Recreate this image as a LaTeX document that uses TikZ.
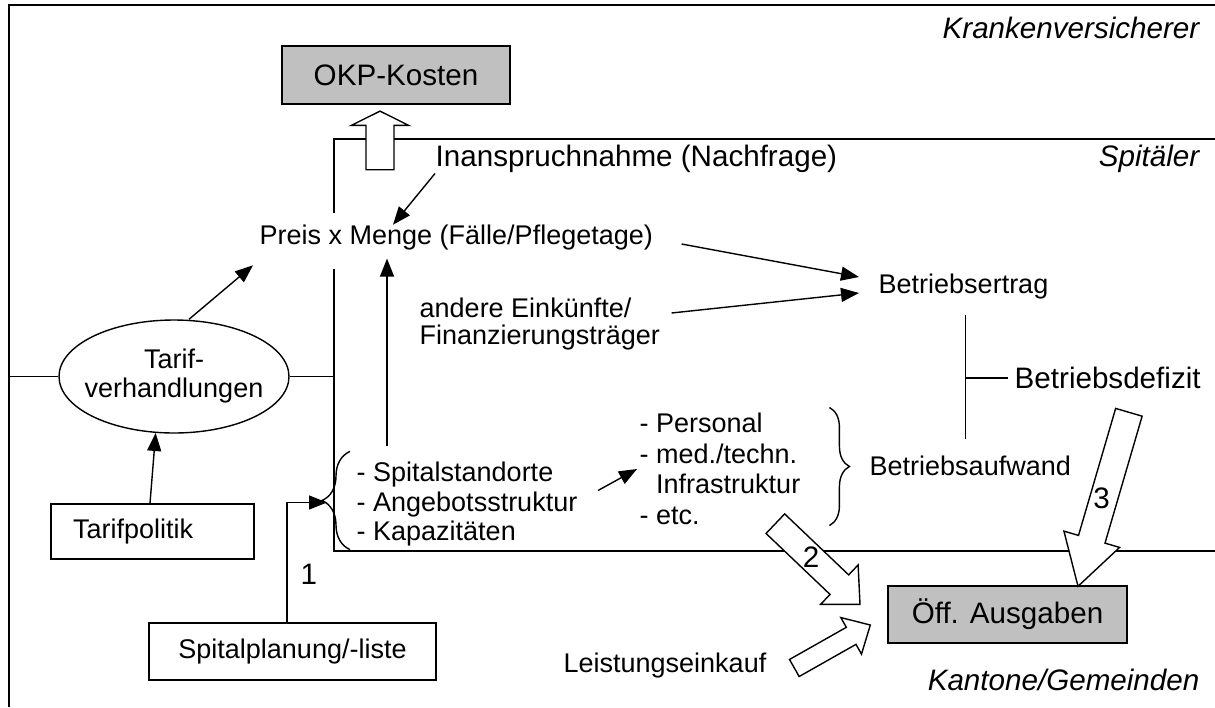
\documentclass[tikz,border=0pt]{standalone}
\usepackage{fontspec}
\setmainfont{Liberation Sans}
\usetikzlibrary{arrows.meta,calc,shapes.geometric,decorations.pathreplacing}
\definecolor{boxgray}{HTML}{C0C0C0}
\newcommand{\txtsize}{\fontsize{13.5}{15}\selectfont}
\newcommand{\bigtxtsize}{\fontsize{14.8}{16}\selectfont}
% hollow block arrow: tip, direction, length, shaft half width, head half width, head length
\newcommand{\blockarrow}[6]{%
  \draw[blockarr,shift={(#1)},rotate=#2]
    (-#3,-#4) -- (-#6,-#4) -- (-#6,-#5) -- (0,0) -- (-#6,#5) -- (-#6,#4) -- (-#3,#4) -- cycle;}

\begin{document}
\begin{tikzpicture}[x=0.5pt,y=-0.5pt,line width=0.7pt,
  >={Triangle[length=9pt,width=7pt]},
  txt/.style={inner sep=0pt,font=\txtsize},
  bigtxt/.style={inner sep=0pt,font=\bigtxtsize},
  region/.style={inner sep=0pt,font=\bigtxtsize\itshape},
  graybox/.style={draw,fill=boxgray,inner sep=0pt,minimum width=#1,minimum height=29pt,font=\bigtxtsize},
  plainbox/.style={draw,inner sep=0pt,minimum width=#1,minimum height=28pt,font=\txtsize},
  blockarr/.style={draw,fill=white,line join=miter}]
\useasboundingbox (0,0) rectangle (1215,707);
% ================= frame and regions =================
\coordinate (frameTL) at (9,5);
\coordinate (frameTR) at (1215,5);
\coordinate (frameBL) at (9,707);
\coordinate (spTL) at (334,139);
\coordinate (spBL) at (334,551);
\node[region,anchor=east] (kv) at (1200,28) {Krankenversicherer};
\node[region,anchor=east] (sp) at (1200,159) {Spitäler};
\node[region,anchor=east] (kg) at (1200,680) {Kantone/Gemeinden};
% ================= nodes =================
\node[graybox=114pt] (okp) at (396,75) {OKP-Kosten};
\node[graybox=119.5pt,minimum height=28.5pt] (oeff) at (1007.5,614.5) {Öff. Ausgaben};
\node[bigtxt,anchor=west] (nach) at (435,159) {Inanspruchnahme (Nachfrage)};
\node[txt,anchor=west] (preis) at (259,238) {Preis x Menge (Fälle/Pflegetage)};
\node[txt,anchor=west,align=left,font=\fontsize{13.5}{13.5}\selectfont] (andere) at (419,324.5)
  {andere Einkünfte/\\Finanzierungsträger};
\node[txt,anchor=west] (ertrag) at (878,287) {Betriebsertrag};
\node[bigtxt,anchor=west] (defizit) at (1014,378) {Betriebsdefizit};
\node[txt,anchor=west] (aufwand) at (869,466) {Betriebsaufwand};
\node[draw,ellipse,inner sep=0pt,minimum width=115pt,minimum height=56.5pt,align=center,
  font=\fontsize{13.5}{14.5}\selectfont] (tarif) at (174,376.5) {Tarif-\\\makebox[70pt]{verhandlungen}};
\node[plainbox=101.5pt,minimum height=27.5pt,text width=79.5pt,inner xsep=11pt,align=left] (tpol) at (152.5,531.5) {Tarifpolitik};
\node[plainbox=143.5pt,minimum height=28.5pt] (plan) at (292.5,651.5) {Spitalplanung/-liste};
\node[txt,anchor=west,align=left,font=\fontsize{13.5}{14.75}\selectfont] (std) at (356,504.5)
  {- Spitalstandorte\\- Angebotsstruktur\\- Kapazitäten};
\node[txt,anchor=west,align=left,font=\fontsize{13.5}{15.3}\selectfont] (pers) at (639,469)
  {- Personal\\- med./techn.\\\phantom{- }Infrastruktur\\- etc.};
\node[txt,anchor=east] (leist) at (767,666) {Leistungseinkauf};
% ================= lines =================
\draw[line width=1pt] (frameBL) -- (frameTL) -- (frameTR);
\draw (spTL -| frameTR) -- (spTL) -- ($(preis.north -| spTL)+(0,-12)$);
\draw ($(preis.south -| spTL)+(0,18)$) -- (spBL) -- (spBL -| frameTR);
\draw (tarif.west -| frameTL) -- (tarif.west);
\draw (tarif.east) -- (tarif.east -| spTL);
% braces
\coordinate (stdtip) at ($(std.west)+(-29,-2)$);
\draw[decorate,decoration={brace,amplitude=14pt}]
  ($(std.south west)+(-6,2.3)$) -- ($(std.north west)+(-6,-10.3)$);
\draw[decorate,decoration={brace,amplitude=10pt}]
  ($(pers.north east)+(28.5,-5)$) -- ($(pers.south east)+(28.5,0)$);
% ================= arrows =================
\draw[->] (nach.south west) -- ($(preis.north west)+(134,0)$);
\draw[->] ($(tarif.north)+(15,0)$) -- ($(preis.south west)+(-6,14)$);
\draw[->] ($(tpol.north)+(-2.5,0)$) -- (tarif.252);
\draw[->] ($(std.north west)+(31,-15.3)$) -- ($(preis.south west)+(128,7.3)$);
\draw[->] ($(std.east)+(20,-14)$) -- ($(pers.west)+(-2,0)$);
\draw[->] ($(plan.north)+(-5.5,0)$) |- (stdtip)
  node[bigtxt,pos=0.2,anchor=west,xshift=6.5pt] (lbl1) {1};
\draw[->] ($(preis.east)+(28,6)$) -- ($(ertrag.west)+(-19,-10)$);
\draw[->] ($(andere.east)+(11,-11.5)$) -- ($(ertrag.west)+(-19,6)$);
% Betriebsertrag - Betriebsaufwand
\draw ($(ertrag.south)+(2,15)$) -- ($(ertrag.south |- aufwand.north)+(2,-16)$);
\draw ($(ertrag.south |- defizit.west)+(2,0)$) -- ($(defizit.west)+(-6,0)$);
% ================= block arrows =================
\coordinate (okpIn) at ($(okp.south)+(-16,6.4)$);
\coordinate (oeffIn2) at ($(oeff.west)+(-27.3,-10.2)$);
\coordinate (oeffIn3) at ($(oeff.north)+(70.5,1)$);
\coordinate (oeffInL) at ($(oeff.west)+(-17,10.5)$);
\blockarrow{okpIn}{90}{58.6}{14}{28.7}{14.3}
\blockarrow{oeffIn2}{-43.6}{116.9}{13.5}{27.2}{28.5}
\blockarrow{oeffIn3}{-106.3}{181.3}{13.8}{29}{49}
\blockarrow{oeffInL}{29.5}{87.3}{9.8}{21}{22}
\node[bigtxt] (lbl2) at (811,557) {2};
\node[bigtxt] (lbl3) at (1101.5,498.5) {3};
\end{tikzpicture}
\end{document}
